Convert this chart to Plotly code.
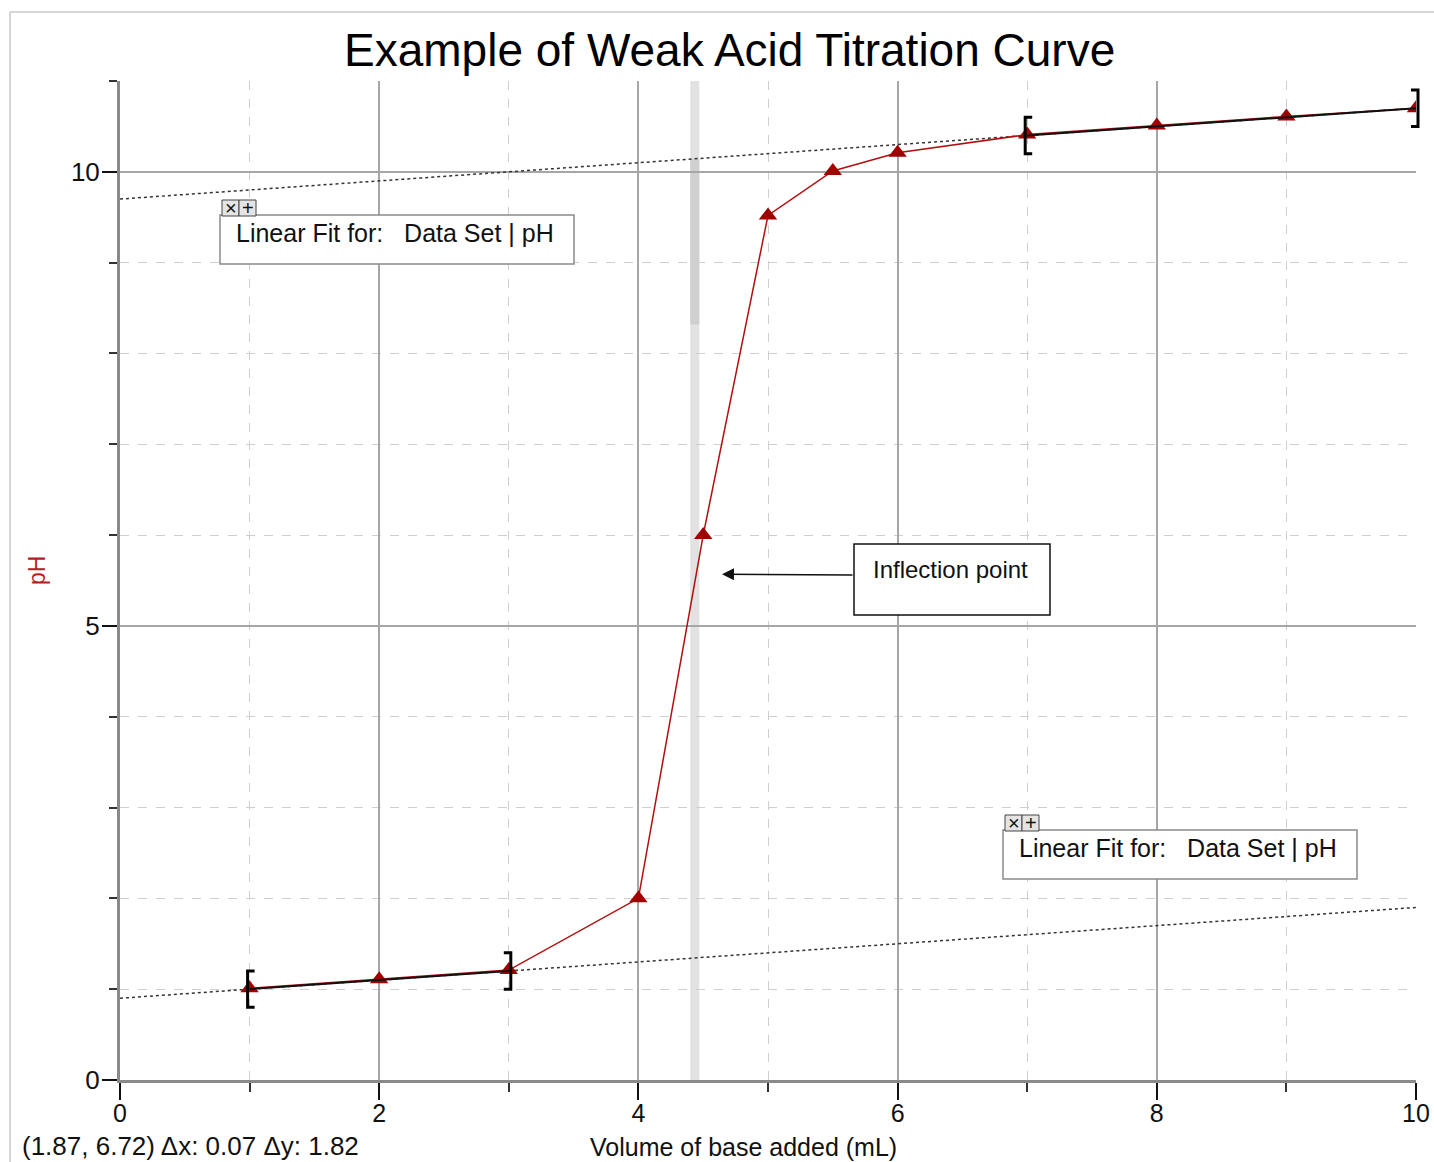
import plotly.graph_objects as go

# ---- data ----
volume_ml = [1, 2, 3, 4, 4.5, 5, 5.5, 6, 7, 8, 9, 10]
ph_values = [1.01, 1.11, 1.21, 2.0, 6.0, 9.52, 10.01, 10.21, 10.41, 10.51, 10.61, 10.70]

fit_low_range = [1, 3]
fit_low_slope, fit_low_intercept = 0.100, 0.90
fit_high_range = [7, 10]
fit_high_slope, fit_high_intercept = 0.100, 9.70

x_ticks = [0, 2, 4, 6, 8, 10]
y_ticks = [0, 5, 10]

sel_x = [4.40, 4.47]          # examined region (Δx 0.07)
sel_y = [8.32, 10.14]         # Δy region
inflection_arrow = (4.645, 5.57)

title_text = "Example of Weak Acid Titration Curve"
x_title = "Volume of base added (mL)"
y_title = "pH"
fit_label = "Linear Fit for:\u00a0\u00a0\u00a0Data Set | pH"
inflection_label = "Inflection point"
status_text = "(1.87, 6.72) \u0394x: 0.07 \u0394y: 1.82"

# ---- layout geometry (pixels) ----
W, H = 1434, 1162
L, R, T, B = 120, 18, 81, 82
PW, PH = W - L - R, H - T - B
FONT = "Liberation Sans, Arial, sans-serif"
XMAX, YMAX = 10, 11


def px(xp):
    return (xp - L) / PW


def py(yp):
    return (H - B - yp) / PH


def fit(slope, intercept, xs):
    return [intercept + slope * x for x in xs]


fig = go.Figure()

# full-range dotted fit lines
fig.add_trace(go.Scatter(x=[0, 10], y=fit(fit_low_slope, fit_low_intercept, [0, 10]),
                         mode="lines", line=dict(color="#333", width=1.5, dash="dot"),
                         hoverinfo="skip", showlegend=False))
fig.add_trace(go.Scatter(x=[0, 10], y=fit(fit_high_slope, fit_high_intercept, [0, 10]),
                         mode="lines", line=dict(color="#333", width=1.5, dash="dot"),
                         hoverinfo="skip", showlegend=False))

# data
fig.add_trace(go.Scatter(x=volume_ml, y=ph_values, mode="lines+markers",
                         line=dict(color="#b01010", width=1.5),
                         marker=dict(symbol="triangle-up", size=16, color="#a00000"),
                         showlegend=False))

# solid fit segments over fitted range
fig.add_trace(go.Scatter(x=fit_low_range, y=fit(fit_low_slope, fit_low_intercept, fit_low_range),
                         mode="lines", line=dict(color="#111", width=2),
                         hoverinfo="skip", showlegend=False))
fig.add_trace(go.Scatter(x=fit_high_range, y=fit(fit_high_slope, fit_high_intercept, fit_high_range),
                         mode="lines", line=dict(color="#111", width=2),
                         hoverinfo="skip", showlegend=False))

shapes = []
# selection band
shapes.append(dict(type="rect", xref="x", yref="y", x0=sel_x[0], x1=sel_x[1], y0=0, y1=11,
                   fillcolor="#e2e2e2", line=dict(width=0), layer="below"))
shapes.append(dict(type="rect", xref="x", yref="y", x0=sel_x[0], x1=sel_x[1], y0=sel_y[0], y1=sel_y[1],
                   fillcolor="#d0d0d0", line=dict(width=0), layer="below"))

# brackets (paper coords so they are not clipped at the plot edge)
arm = 7 / PW
half = 0.2 / YMAX
for (x0, x1), (s, b) in [(fit_low_range, (fit_low_slope, fit_low_intercept)),
                         (fit_high_range, (fit_high_slope, fit_high_intercept))]:
    for xv, d in [(x0, 1), (x1, -1)]:
        yc = (b + s * xv) / YMAX
        xp = xv / XMAX - d * 2 / PW
        path = (f"M {xp + d * arm},{yc + half} L {xp},{yc + half} "
                f"L {xp},{yc - half} L {xp + d * arm},{yc - half}")
        shapes.append(dict(type="path", xref="paper", yref="paper", path=path,
                           line=dict(color="#000", width=3)))

annotations = []


def fit_box(x0, y0):
    shapes.append(dict(type="rect", xref="paper", yref="paper",
                       x0=px(x0), x1=px(x0 + 354), y0=py(y0 + 49), y1=py(y0),
                       fillcolor="white", line=dict(color="#8a8a8a", width=1.5)))
    for i, sym in enumerate(["\u00d7", "+"]):
        bx = x0 + 2 + i * 17
        shapes.append(dict(type="rect", xref="paper", yref="paper",
                           x0=px(bx), x1=px(bx + 17), y0=py(y0 + 1), y1=py(y0 - 15),
                           fillcolor="#e4e4e4", line=dict(color="#444", width=1)))
        annotations.append(dict(xref="paper", yref="paper", x=px(bx + 8.5), y=py(y0 - 7),
                                text=sym, showarrow=False, xanchor="center", yanchor="middle",
                                font=dict(family=FONT, size=20, color="#111")))
    annotations.append(dict(xref="paper", yref="paper", x=px(x0 + 14), y=py(y0 + 18),
                            text=fit_label, showarrow=False, xanchor="left", yanchor="middle",
                            font=dict(family=FONT, size=25, color="#111")))


fit_box(220, 215)
fit_box(1003, 830)

# inflection box
shapes.append(dict(type="rect", xref="paper", yref="paper",
                   x0=px(854), x1=px(1050), y0=py(615), y1=py(544),
                   fillcolor="white", line=dict(color="#111", width=1.5)))
annotations.append(dict(xref="paper", yref="paper", x=px(950), y=py(569),
                        text=inflection_label, showarrow=False, xanchor="center", yanchor="middle",
                        font=dict(family=FONT, size=24, color="#111")))
annotations.append(dict(xref="x", yref="y", x=inflection_arrow[0], y=inflection_arrow[1],
                        axref="x", ayref="y", ax=(854 - L) / PW * 10, ay=inflection_arrow[1] - 0.01,
                        text="", showarrow=True, arrowhead=2, arrowsize=1.6, arrowwidth=1.5,
                        arrowcolor="#111", standoff=0))

# outer frame
shapes.append(dict(type="line", xref="paper", yref="paper", x0=px(10), x1=px(10), y0=py(12), y1=py(H),
                   line=dict(color="#c8c8c8", width=1.5)))
shapes.append(dict(type="line", xref="paper", yref="paper", x0=px(10), x1=px(W), y0=py(12), y1=py(12),
                   line=dict(color="#c8c8c8", width=1.5)))

# title, axis titles, status
annotations.append(dict(xref="paper", yref="paper", x=px(729), y=py(50), text=title_text,
                        showarrow=False, xanchor="center", yanchor="middle",
                        font=dict(family=FONT, size=46, color="#000")))
annotations.append(dict(xref="paper", yref="paper", x=px(743), y=py(1147), text=x_title,
                        showarrow=False, xanchor="center", yanchor="middle",
                        font=dict(family=FONT, size=25, color="#111")))
annotations.append(dict(xref="paper", yref="paper", x=px(37), y=py(570), text=y_title,
                        showarrow=False, xanchor="center", yanchor="middle", textangle=-90,
                        font=dict(family=FONT, size=23, color="#b22222")))
annotations.append(dict(xref="paper", yref="paper", x=px(20), y=py(1146), text=status_text,
                        showarrow=False, xanchor="left", yanchor="middle",
                        font=dict(family=FONT, size=26, color="#111")))

fig.update_layout(
    width=W, height=H, margin=dict(l=L, r=R, t=T, b=B, autoexpand=False),
    plot_bgcolor="white", paper_bgcolor="white",
    font=dict(family=FONT, size=26, color="#111"),
    shapes=shapes, annotations=annotations, showlegend=False,
    xaxis=dict(range=[0, XMAX], tickvals=x_ticks, ticks="outside", ticklen=17, tickwidth=2,
               tickcolor="#111", showline=True, linecolor="#8a8a8a", linewidth=3,
               showgrid=True, gridcolor="#a6a6a6", gridwidth=1.5, zeroline=False,
               tickfont=dict(size=25, color="#111"), ticklabelstandoff=-8,
               minor=dict(dtick=1, tick0=0, ticks="outside", ticklen=9, tickwidth=2, tickcolor="#333",
                          showgrid=True, gridcolor="#cfcfcf", griddash="dash", gridwidth=1.2)),
    yaxis=dict(range=[0, YMAX], tickvals=y_ticks, ticks="outside", ticklen=15, tickwidth=2,
               tickcolor="#111", showline=True, linecolor="#8a8a8a", linewidth=3,
               showgrid=True, gridcolor="#a6a6a6", gridwidth=1.5, zeroline=False,
               tickfont=dict(size=26, color="#111"), ticklabelstandoff=-3,
               minor=dict(dtick=1, tick0=0, ticks="outside", ticklen=8, tickwidth=2, tickcolor="#333",
                          showgrid=True, gridcolor="#cfcfcf", griddash="dash", gridwidth=1.2)),
)

fig.write_html("out.html", config={"displayModeBar": False},
               post_script="document.body.style.margin='0px';")
